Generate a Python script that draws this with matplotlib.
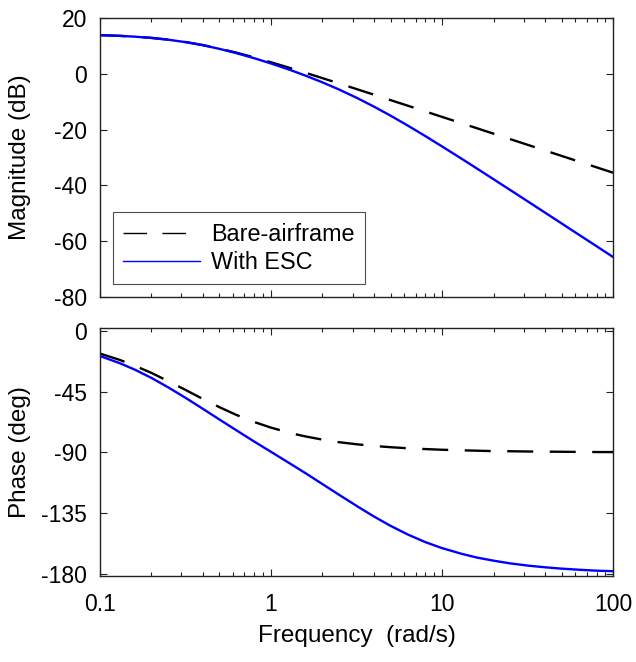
import matplotlib
matplotlib.use('Agg')
from matplotlib import pyplot as plt
from matplotlib.ticker import FixedLocator, LogLocator, NullFormatter

plt.rcParams['font.family'] = ['Liberation Sans', 'DejaVu Sans']
plt.rcParams['axes.unicode_minus'] = False

# values
freq = [0.1, 0.13, 0.16, 0.2, 0.25, 0.32, 0.4, 0.5, 0.63, 0.8,
        1, 1.3, 1.6, 2, 2.5, 3.2, 4, 5, 6.3, 8,
        10, 13, 16, 20, 25, 32, 40, 50, 63, 80, 100]

mag_bare = [13.82, 13.57, 13.28, 12.84, 12.23, 11.32, 10.28, 9.02, 7.53, 5.83,
            4.12, 2.02, 0.31, -1.57, -3.46, -5.58, -7.50, -9.43, -11.43, -13.50,
            -15.44, -17.71, -19.51, -21.45, -23.39, -25.53, -27.47, -29.41, -31.42, -33.49, -35.43]
mag_esc = [13.81, 13.57, 13.27, 12.82, 12.20, 11.28, 10.20, 8.91, 7.35, 5.55,
           3.69, 1.32, -0.72, -3.08, -5.64, -8.73, -11.76, -14.99, -18.53, -22.34,
           -26.01, -30.40, -33.93, -37.75, -41.59, -45.85, -49.71, -53.58, -57.59, -61.73, -65.61]

ph_bare = [-16.9, -21.5, -25.9, -31.2, -37.2, -44.1, -50.5, -56.6, -62.4, -67.6,
           -71.7, -75.8, -78.3, -80.6, -82.5, -84.1, -85.3, -86.2, -87.0, -87.6,
           -88.1, -88.5, -88.8, -89.1, -89.2, -89.4, -89.5, -89.6, -89.7, -89.8, -89.8]
ph_esc = [-18.7, -23.9, -28.8, -34.9, -41.8, -50.0, -57.8, -65.7, -73.8, -82.1,
          -89.6, -98.5, -105.6, -113.5, -121.4, -130.0, -137.5, -144.4, -150.8, -156.5,
          -160.9, -165.1, -167.9, -170.2, -172.2, -173.9, -175.1, -176.1, -176.9, -177.6, -178.0]

labels = ['Bare-airframe', 'With ESC']
xticks = [0.1, 1, 10, 100]
xticklabels = ['0.1', '1', '10', '100']
mag_ticks = [20, 0, -20, -40, -60, -80]
ph_ticks = [0, -45, -90, -135, -180]

fs = 16.5

fig = plt.figure(figsize=(6.36, 6.62), dpi=100)
ax1 = fig.add_axes([0.157, 0.551, 0.807, 0.422])
ax2 = fig.add_axes([0.157, 0.130, 0.807, 0.3745])

dash = (11, 7)
ax1.plot(freq, mag_bare, color='black', lw=1.7, dashes=dash, label=labels[0])
ax1.plot(freq, mag_esc, color='#0000ff', lw=1.7, label=labels[1])
ax2.plot(freq, ph_bare, color='black', lw=1.7, dashes=dash)
ax2.plot(freq, ph_esc, color='#0000ff', lw=1.7)

for ax in (ax1, ax2):
    ax.set_xscale('log')
    ax.set_xlim(0.1, 100)
    ax.xaxis.set_major_locator(FixedLocator(xticks))
    ax.xaxis.set_minor_locator(LogLocator(base=10, subs=range(2, 10)))
    ax.xaxis.set_minor_formatter(NullFormatter())
    ax.tick_params(which='both', direction='in', top=True, right=True,
                   labelsize=fs, color='#222222')
    ax.tick_params(axis='y', pad=9)
    ax.tick_params(axis='x', pad=12)
    ax.tick_params(which='major', length=5, width=0.8)
    ax.tick_params(which='minor', length=3, width=0.8)
    for sp in ax.spines.values():
        sp.set_linewidth(1.0)
        sp.set_color('#222222')

ax1.set_ylim(-80, 20)
ax1.set_yticks(mag_ticks)
ax1.set_xticklabels([])
ax1.set_ylabel('Magnitude (dB)', fontsize=fs + 1)

ax2.set_ylim(-181.5, 2)
ax2.set_yticks(ph_ticks)
ax2.set_yticklabels([str(t) for t in ph_ticks])
ax2.set_xticklabels(xticklabels)
ax2.set_ylabel('Phase (deg)', fontsize=fs + 1)
ax2.set_xlabel('Frequency  (rad/s)', fontsize=fs + 1, labelpad=7)

for ax in (ax1, ax2):
    ax.yaxis.set_label_coords(-0.134, 0.5)

leg = ax1.legend(loc='lower left', fontsize=16.8, frameon=True, fancybox=False,
                 edgecolor='#222222', handlelength=3.3, handletextpad=0.45,
                 borderaxespad=0.55, borderpad=0.45, labelspacing=0.22)
leg.get_frame().set_linewidth(0.8)
for ln in leg.get_lines():
    ln.set_linewidth(1.0)
leg.get_lines()[0].set_dashes((17, 11))

fig.savefig('out.png', dpi=100)
